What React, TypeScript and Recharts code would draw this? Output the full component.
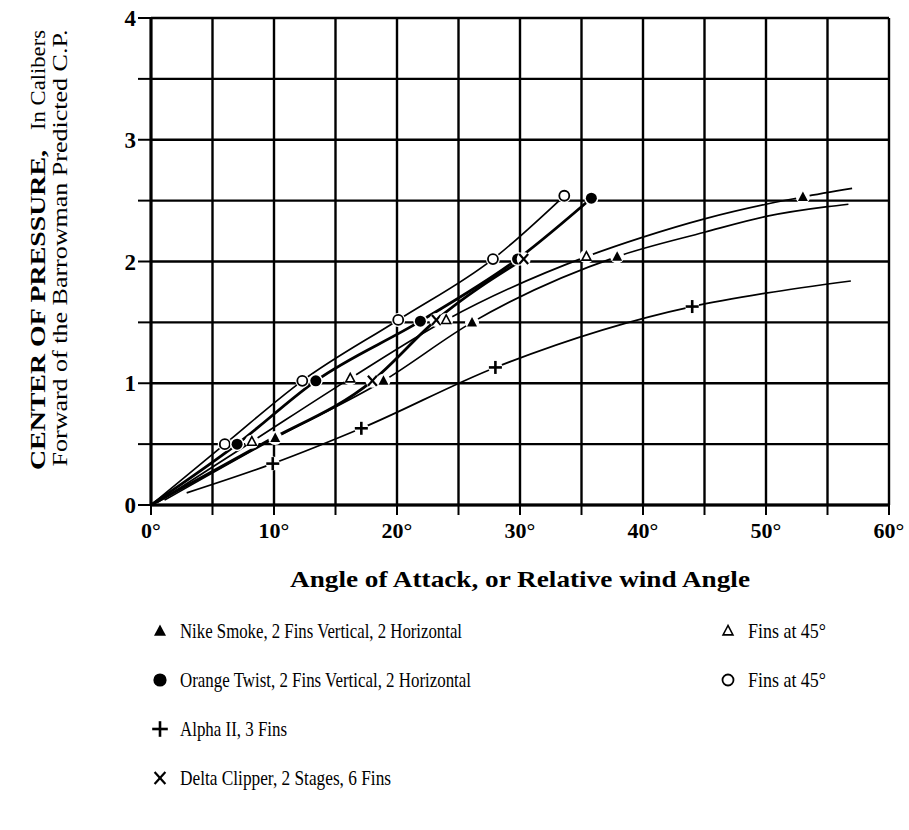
import React from 'react';
import { ComposedChart, Line, XAxis, YAxis, CartesianGrid } from 'recharts';

type Pt = { x: number; y: number; mk?: string };

// axis ticks (grid every 5 deg / 0.5 caliber, labels only on the major ones)
const xTicks = [0, 5, 10, 15, 20, 25, 30, 35, 40, 45, 50, 55, 60];
const xTickLabels: Record<number, string> = { 0: '0°', 10: '10°', 20: '20°', 30: '30°', 40: '40°', 50: '50°', 60: '60°' };
const yTicks = [0, 0.5, 1, 1.5, 2, 2.5, 3, 3.5, 4];
const yTickLabels: Record<number, string> = { 0: '0', 1: '1', 2: '2', 3: '3', 4: '4' };

// series (points without mk only shape the curve)
const nikeSmoke: Pt[] = [
  { x: 1.1, y: 0.04 },
  { x: 10.1, y: 0.55, mk: 'tri' },
  { x: 18.9, y: 1.02, mk: 'tri' },
  { x: 26.1, y: 1.5, mk: 'tri' },
  { x: 37.9, y: 2.04, mk: 'tri' },
  { x: 45, y: 2.24 },
  { x: 50, y: 2.37 },
  { x: 55, y: 2.45 },
  { x: 56.7, y: 2.47 },
];

const nikeSmoke45: Pt[] = [
  { x: 0.5, y: 0.02 },
  { x: 8.2, y: 0.52, mk: 'triOpen' },
  { x: 16.2, y: 1.04, mk: 'triOpen' },
  { x: 24, y: 1.52, mk: 'triOpen' },
  { x: 35.4, y: 2.04, mk: 'triOpen' },
  { x: 40, y: 2.2 },
  { x: 45, y: 2.35 },
  { x: 50, y: 2.47 },
  { x: 53, y: 2.53, mk: 'tri' },
  { x: 57, y: 2.6 },
];

const orangeTwist: Pt[] = [
  { x: 0, y: 0 },
  { x: 7, y: 0.5, mk: 'dot' },
  { x: 13.4, y: 1.02, mk: 'dot' },
  { x: 21.9, y: 1.51, mk: 'dot' },
  { x: 29.8, y: 2.02, mk: 'dot' },
  { x: 35.8, y: 2.52, mk: 'dot' },
];

const orangeTwist45: Pt[] = [
  { x: 0, y: 0 },
  { x: 6, y: 0.5, mk: 'ring' },
  { x: 12.3, y: 1.02, mk: 'ring' },
  { x: 20.1, y: 1.52, mk: 'ring' },
  { x: 27.8, y: 2.02, mk: 'ring' },
  { x: 33.6, y: 2.54, mk: 'ring' },
];

const alphaII: Pt[] = [
  { x: 2.9, y: 0.1 },
  { x: 9.9, y: 0.34, mk: 'plus' },
  { x: 17.1, y: 0.63, mk: 'plus' },
  { x: 28, y: 1.13, mk: 'plus' },
  { x: 44, y: 1.63, mk: 'plus' },
  { x: 50, y: 1.74 },
  { x: 56.9, y: 1.84 },
];

const deltaClipper: Pt[] = [
  { x: 0, y: 0 },
  { x: 9, y: 0.5 },
  { x: 18, y: 1.02, mk: 'cross' },
  { x: 23.2, y: 1.52, mk: 'cross' },
  { x: 30.3, y: 2.02, mk: 'cross' },
];

const legendRows = [
  { mk: 'tri', text: 'Nike Smoke, 2 Fins Vertical, 2 Horizontal', w: 282, alt: 'triOpen', altText: 'Fins at 45°' },
  { mk: 'dot', text: 'Orange Twist, 2 Fins Vertical, 2 Horizontal', w: 291, alt: 'ring', altText: 'Fins at 45°' },
  { mk: 'plus', text: 'Alpha II, 3 Fins', w: 107 },
  { mk: 'cross', text: 'Delta Clipper, 2 Stages, 6 Fins', w: 211 },
];

const FONT = '"Liberation Serif", "Times New Roman", serif';

const Marker = ({ kind, cx, cy, halo = true, s = 1 }: { kind: string; cx: number; cy: number; halo?: boolean; s?: number }) => {
  const h = halo ? <circle cx={cx} cy={cy} r={7} fill="#fff" /> : null;
  switch (kind) {
    case 'tri':
      return (
        <g>
          {h}
          <polygon points={`${cx},${cy - 5.5 * s} ${cx - 5 * s},${cy + 4 * s} ${cx + 5 * s},${cy + 4 * s}`} fill="#000" />
        </g>
      );
    case 'triOpen':
      return (
        <g>
          {h}
          <polygon points={`${cx},${cy - 5 * s} ${cx - 4.5 * s},${cy + 3.5 * s} ${cx + 4.5 * s},${cy + 3.5 * s}`} fill="#fff" stroke="#000" strokeWidth={1.6} />
        </g>
      );
    case 'dot':
      return (
        <g>
          {h}
          <circle cx={cx} cy={cy} r={5.5 * s} fill="#000" />
        </g>
      );
    case 'ring':
      return (
        <g>
          {h}
          <circle cx={cx} cy={cy} r={5 * s} fill="#fff" stroke="#000" strokeWidth={1.8} />
        </g>
      );
    case 'plus':
      return (
        <g>
          {h}
          <line x1={cx - 6.5 * s} y1={cy} x2={cx + 6.5 * s} y2={cy} stroke="#000" strokeWidth={2.6} />
          <line x1={cx} y1={cy - 6.5 * s} x2={cx} y2={cy + 6.5 * s} stroke="#000" strokeWidth={2.6} />
        </g>
      );
    case 'cross':
      return (
        <g>
          {h}
          <line x1={cx - 4.5 * s} y1={cy - 5 * s} x2={cx + 4.5 * s} y2={cy + 5 * s} stroke="#000" strokeWidth={2.2} />
          <line x1={cx + 4.5 * s} y1={cy - 5 * s} x2={cx - 4.5 * s} y2={cy + 5 * s} stroke="#000" strokeWidth={2.2} />
        </g>
      );
    default:
      return null;
  }
};

const renderDot = (p: any) => {
  const k = p.payload && p.payload.mk;
  return <g key={`dot-${p.index}`}>{k ? <Marker kind={k} cx={p.cx} cy={p.cy} /> : null}</g>;
};

const XTick = (props: any) => {
  const { x, y, payload } = props;
  const label = xTickLabels[payload.value];
  if (!label) return <g />;
  return (
    <text x={x} y={y} dy={18} textAnchor="middle" fontFamily={FONT} fontWeight="bold" fontSize={22} fill="#000">
      {label}
    </text>
  );
};

const YTick = (props: any) => {
  const { x, y, payload } = props;
  const label = yTickLabels[payload.value];
  if (!label) return <g />;
  return (
    <text x={x} y={y} dy={8} textAnchor="end" fontFamily={FONT} fontWeight="bold" fontSize={23} fill="#000">
      {label}
    </text>
  );
};

const series = [
  { data: orangeTwist45, w: 1.7 },
  { data: orangeTwist, w: 2.8 },
  { data: deltaClipper, w: 2.8 },
  { data: nikeSmoke45, w: 1.7 },
  { data: nikeSmoke, w: 1.7 },
  { data: alphaII, w: 1.7 },
];

export default function App() {
  return (
    <div style={{ position: 'relative', width: 909, height: 830, background: '#fff' }}>
      <style>{'body{margin:0;background:#fff}'}</style>
      <ComposedChart width={909} height={830} margin={{ top: 18, right: 20, left: 0, bottom: 235 }}>
        <CartesianGrid stroke="#000" strokeWidth={2.4} />
        <XAxis
          dataKey="x"
          type="number"
          domain={[0, 60]}
          ticks={xTicks}
          allowDataOverflow
          height={90}
          tickSize={10}
          tickMargin={5}
          tick={<XTick />}
          tickLine={{ stroke: '#000', strokeWidth: 2 }}
          axisLine={{ stroke: '#000', strokeWidth: 3 }}
        />
        <YAxis
          type="number"
          domain={[0, 4]}
          ticks={yTicks}
          allowDataOverflow
          width={151}
          tickSize={13}
          tickMargin={2}
          tick={<YTick />}
          tickLine={{ stroke: '#000', strokeWidth: 2 }}
          axisLine={{ stroke: '#000', strokeWidth: 3 }}
        />
        {series.map((s, i) => (
          <Line
            key={i}
            data={s.data}
            dataKey="y"
            type="monotone"
            stroke="#000"
            strokeWidth={s.w}
            dot={renderDot}
            activeDot={false}
            legendType="none"
            isAnimationActive={false}
          />
        ))}
      </ComposedChart>
      <svg width={909} height={830} style={{ position: 'absolute', left: 0, top: 0, pointerEvents: 'none' }}>
        {/* y axis title */}
        <g fontFamily={FONT} fontSize={21} fill="#000">
          <text x={45} y={310} transform="rotate(-90 45 310)" textAnchor="middle" fontWeight="bold" textLength={320} lengthAdjust="spacingAndGlyphs">
            CENTER OF PRESSURE,
          </text>
          <text x={45} y={80} transform="rotate(-90 45 80)" textAnchor="middle" textLength={100} lengthAdjust="spacingAndGlyphs">
            In Calibers
          </text>
          <text x={67} y={248} transform="rotate(-90 67 248)" textAnchor="middle" textLength={437} lengthAdjust="spacingAndGlyphs">
            Forward of the Barrowman Predicted C.P.
          </text>
        </g>
        {/* x axis title */}
        <text x={520} y={587} textAnchor="middle" fontFamily={FONT} fontWeight="bold" fontSize={24} textLength={460} lengthAdjust="spacingAndGlyphs" fill="#000">
          Angle of Attack, or Relative wind Angle
        </text>
        {/* legend */}
        {legendRows.map((r, i) => {
          const cy = 631 + i * 49;
          return (
            <g key={r.text}>
              <Marker kind={r.mk} cx={160} cy={cy} halo={false} s={1.2} />
              <text x={180} y={cy + 7} fontFamily={FONT} fontSize={21} textLength={r.w} lengthAdjust="spacingAndGlyphs" fill="#000">
                {r.text}
              </text>
              {r.alt ? (
                <g>
                  <Marker kind={r.alt} cx={728} cy={cy} halo={false} s={1.1} />
                  <text x={748} y={cy + 7} fontFamily={FONT} fontSize={21} textLength={78} lengthAdjust="spacingAndGlyphs" fill="#000">
                    {r.altText}
                  </text>
                </g>
              ) : null}
            </g>
          );
        })}
      </svg>
    </div>
  );
}
